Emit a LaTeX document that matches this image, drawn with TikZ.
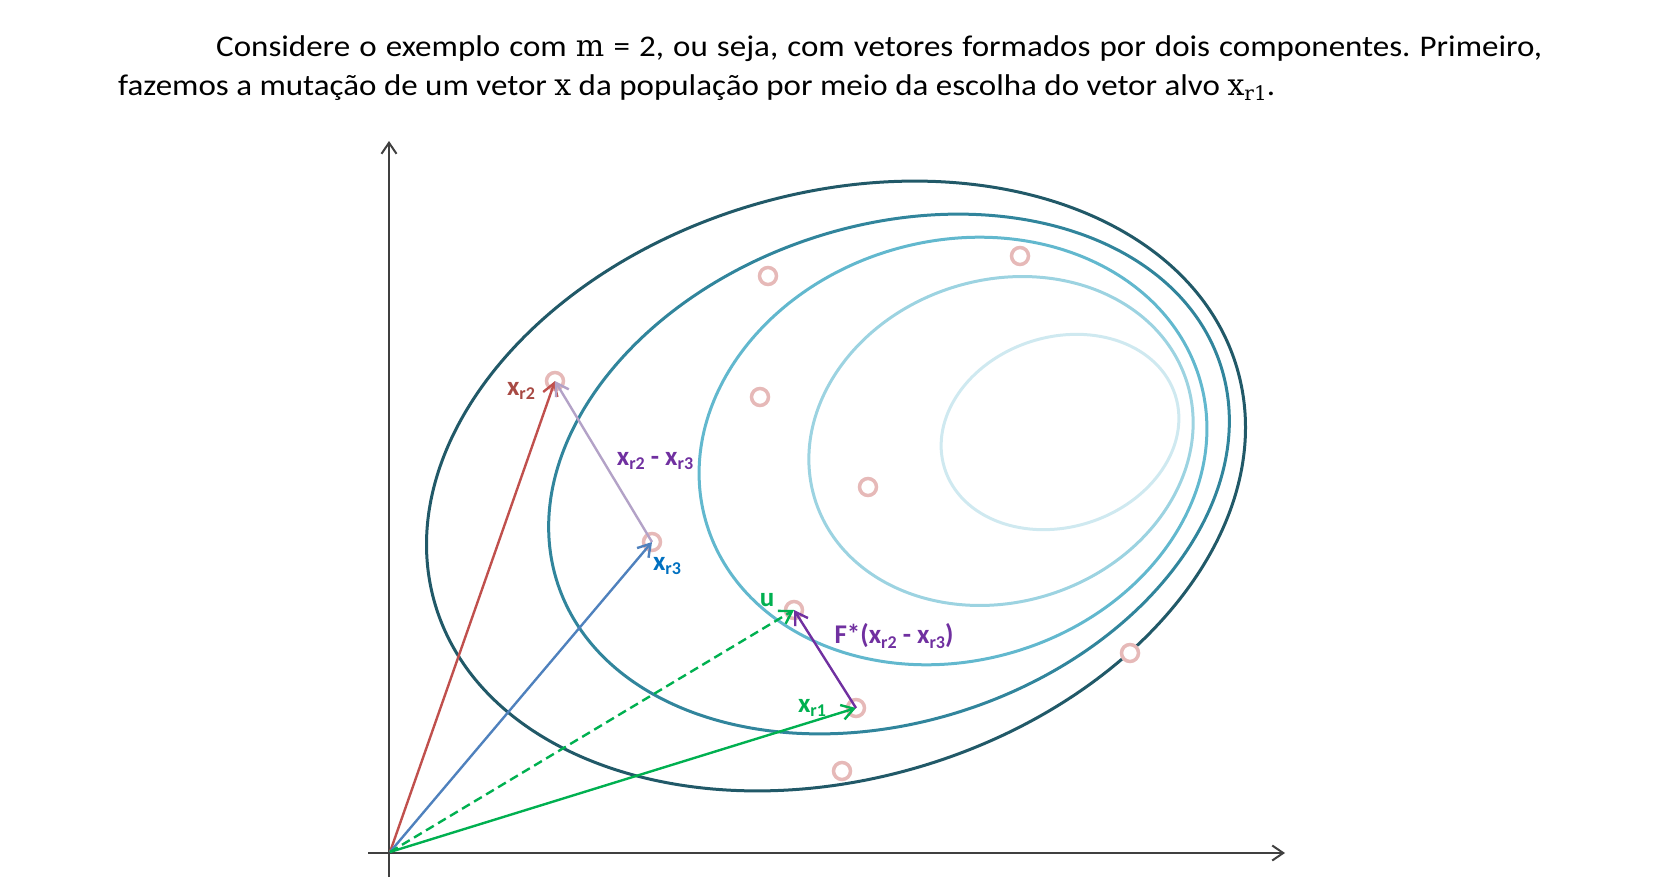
\documentclass[tikz,border=0pt]{standalone}
\usepackage{fontspec}
\usepackage{graphicx}
\setmainfont{Carlito}
\newfontfamily\capfont[FakeStretch=1.1]{Carlito}
\newfontfamily\serifm{DejaVu Serif}
\usetikzlibrary{arrows.meta}
\definecolor{eA}{HTML}{215968}
\definecolor{eB}{HTML}{31859C}
\definecolor{eC}{HTML}{62B8CE}
\definecolor{eD}{HTML}{9CD3E1}
\definecolor{eE}{HTML}{CFE9F0}
\definecolor{ptc}{HTML}{E6B9B8}
\definecolor{vred}{HTML}{C0504D}
\definecolor{vblue}{HTML}{4F81BD}
\definecolor{vgreen}{HTML}{00B050}
\definecolor{vlav}{HTML}{B3A2C7}
\definecolor{vpur}{HTML}{7030A0}
\definecolor{lred}{HTML}{A84A44}
\definecolor{lblue}{HTML}{0070C0}
\definecolor{axc}{HTML}{404040}
\frenchspacing
\newcommand{\lsub}[1]{\raisebox{-4.5pt}{\fontsize{18}{18}\selectfont #1}}
\newcommand{\csub}[1]{\raisebox{-5pt}{\fontsize{20}{20}\selectfont #1}}
\newcommand{\mth}[1]{{\serifm\fontsize{30}{30}\selectfont #1}}
\begin{document}
\begin{tikzpicture}[x=1pt,y=-1pt,
  ell/.style={line width=3pt},
  pt/.style={circle,draw=ptc,line width=3.5pt,fill=white,minimum size=17pt,inner sep=0pt},
  vec/.style={line width=2.4pt,-{Straight Barb[length=12pt,width=15pt]}},
  axis/.style={line width=2pt,draw=axc,-{Straight Barb[length=11pt,width=15pt]}},
  lab/.style={font=\fontsize{27}{30}\selectfont\bfseries,inner sep=0pt},
  captxt/.style={font=\capfont\fontsize{30}{36}\selectfont,inner sep=0pt,anchor=base west}]
\useasboundingbox (0,0) rectangle (1653,890);
% caption
\node[captxt] (t1) at (216,57) {\hbox to 1326pt{Considere o exemplo com \mth{m} = 2, ou seja, com vetores formados por dois componentes. Primeiro,}};
\node[captxt] (t2) at (118,96) {fazemos a muta\c{c}\~ao de um vetor \mth{x} da popula\c{c}\~ao por meio da escolha do vetor alvo \mth{x\csub{r1}}.};
% ellipses
\draw[ell,eA,rotate around={16.4:(836,486)}] (836,486) ellipse [x radius=418, y radius=293];
\draw[ell,eB,rotate around={18.4:(889,474)}] (889,474) ellipse [x radius=349, y radius=248];
\draw[ell,eC,rotate around={15.6:(953,451)}] (953,451) ellipse [x radius=257, y radius=210];
\draw[ell,eD,rotate around={17.7:(1001,441)}] (1001,441) ellipse [x radius=195, y radius=161];
\draw[ell,eE,rotate around={17.6:(1060,432)}] (1060,432) ellipse [x radius=121, y radius=95];
% axes
\coordinate (O) at (390,852);
\coordinate (ybot) at (389,877);
\coordinate (ytop) at (389,141);
\coordinate (xl) at (368,853);
\coordinate (xr) at (1285,853);
\draw[axis] (ybot) -- (ytop);
\draw[axis] (xl) -- (xr);
% points
\node[pt] (c1) at (768,276) {};
\node[pt] (c2) at (1020,256) {};
\node[pt] (c3) at (555,381) {};
\node[pt] (c4) at (760,397) {};
\node[pt] (c5) at (868,487) {};
\node[pt] (c6) at (652,542) {};
\node[pt] (c7) at (794,610) {};
\node[pt] (c8) at (856,708) {};
\node[pt] (c9) at (1130,653) {};
\node[pt] (c10) at (842,771) {};
% vectors
\draw[vec,vred] (O) -- (c3.center);
\draw[vec,vblue] (O) -- (c6.center);
\draw[vec,vgreen,dashed,dash pattern=on 9pt off 5pt] (O) -- (c7.center);
\draw[vec,vgreen] (O) -- (c8.center);
\draw[vec,vlav] (c6.center) -- (c3.center);
\draw[vec,vpur] (c8.center) -- (c7.center);
% labels
\node[lab,lred] (l2) at (521,391) {x\lsub{r2}};
\node[lab,vpur] (ld) at (655,461) {x\lsub{r2} - x\lsub{r3}};
\node[lab,lblue] (l3) at (667,566) {x\lsub{r3}};
\node[lab,vgreen] (lu) at (767,600) {u};
\node[lab,vpur] (lf) at (894,636) {F*(x\lsub{r2} - x\lsub{r3})};
\node[lab,vgreen] (l1) at (812,708) {x\lsub{r1}};
\end{tikzpicture}
\end{document}
